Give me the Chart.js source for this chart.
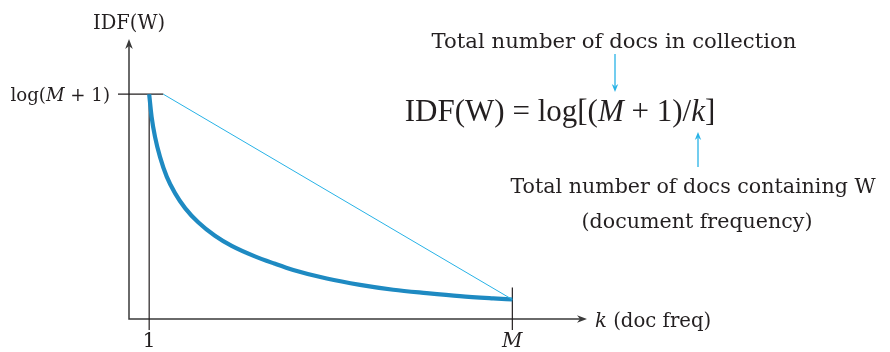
<!DOCTYPE html>
<html>
<head>
<meta charset="utf-8">
<script src="https://cdn.jsdelivr.net/npm/chart.js@4.4.1/dist/chart.umd.min.js"></script>
<style>
  html, body { margin: 0; padding: 0; background: #fff; }
  #wrap { width: 890px; height: 352px; }
</style>
</head>
<body>
<div id="wrap"><canvas id="idf-chart"></canvas></div>
<script>
// k runs from 1 to M, the top of the curve sits at log(M + 1)
const M_VALUE = 19;
const LOG_TOP = 3.0;

// IDF curve, read point by point
const docFreq = [1, 1.12, 1.29, 1.54, 1.87, 2.28, 2.78, 3.43, 4.26, 5.09, 6.24, 7.2, 8.14, 9.8, 11.45, 13.1, 14.75, 16.4, 18.05, 19];
const idfValues = [3.0, 2.70, 2.43, 2.16, 1.90, 1.68, 1.48, 1.29, 1.11, 0.975, 0.835, 0.74, 0.655, 0.54, 0.455, 0.39, 0.345, 0.305, 0.275, 0.26];

// straight line from the end of the log(M+1) tick to the end of the curve
const chordX = [1.7, M_VALUE];
const chordY = [LOG_TOP, 0.26];

const xTickValues = [1, M_VALUE];
const xTickLabels = ['1', 'M'];
const yTickValues = [LOG_TOP];

const INK = '#231f20';
const CURVE_BLUE = '#1e8ac2';
const LIGHT_BLUE = '#27b2e6';
const SERIF = '"DejaVu Serif", "Liberation Serif", serif';
const FORMULA_SERIF = '"Liberation Serif", serif';

function font(size, italic, family) {
    return (italic ? 'italic ' : '') + size + 'px ' + (family || SERIF);
}

// draws a run of [text, italic] pieces on one baseline
function drawRuns(ctx, runs, x, y, size, align, family) {
    let total = 0;
    runs.forEach(r => {
        ctx.font = font(size, r[1], family);
        total += ctx.measureText(r[0]).width;
    });
    let cx = x;
    if (align === 'center') cx = x - total / 2;
    if (align === 'right') cx = x - total;
    ctx.textAlign = 'left';
    ctx.textBaseline = 'alphabetic';
    runs.forEach(r => {
        ctx.font = font(size, r[1], family);
        ctx.fillText(r[0], cx, y);
        cx += ctx.measureText(r[0]).width;
    });
}

function arrowHead(ctx, x, y, dir, len, half) {
    const d = { up: [0, -1], down: [0, 1], right: [1, 0] }[dir];
    const px = -d[1], py = d[0];
    ctx.beginPath();
    ctx.moveTo(x, y);
    ctx.lineTo(x - d[0] * len + px * half, y - d[1] * len + py * half);
    ctx.lineTo(x - d[0] * len * 0.7, y - d[1] * len * 0.7);
    ctx.lineTo(x - d[0] * len - px * half, y - d[1] * len - py * half);
    ctx.closePath();
    ctx.fill();
}

const idfDecor = {
    id: 'idfDecor',
    beforeDatasetsDraw(chart) {
        const ctx = chart.ctx;
        const xs = chart.scales.x, ys = chart.scales.y;
        const x0 = xs.getPixelForValue(0), y0 = ys.getPixelForValue(0);
        const xEnd = xs.getPixelForValue(xs.max);
        const yEnd = ys.getPixelForValue(ys.max) + 1;
        ctx.save();
        ctx.strokeStyle = '#3a3a3a';
        ctx.fillStyle = '#3a3a3a';
        ctx.lineWidth = 1.5;
        // axes
        ctx.beginPath();
        ctx.moveTo(x0, yEnd + 6);
        ctx.lineTo(x0, y0);
        ctx.lineTo(xEnd - 6, y0);
        ctx.stroke();
        arrowHead(ctx, x0, yEnd, 'up', 10, 3.8);
        arrowHead(ctx, xEnd, y0, 'right', 10, 3.8);

        // x ticks: the one at 1 rises to the top of the curve
        ctx.lineWidth = 1.2;
        ctx.strokeStyle = INK;
        const topPx = ys.getPixelForValue(LOG_TOP);
        xTickValues.forEach((v, i) => {
            const px = xs.getPixelForValue(v);
            const from = i === 0 ? topPx : ys.getPixelForValue(idfValues[idfValues.length - 1]) - 12;
            ctx.beginPath();
            ctx.moveTo(px, from);
            ctx.lineTo(px, y0 + 11);
            ctx.stroke();
        });
        // y tick at log(M+1)
        yTickValues.forEach(v => {
            const py = ys.getPixelForValue(v);
            ctx.beginPath();
            ctx.moveTo(x0 - 11, py);
            ctx.lineTo(xs.getPixelForValue(chordX[0]), py);
            ctx.stroke();
        });
        ctx.restore();
    },
    afterDatasetsDraw(chart) {
        const ctx = chart.ctx;
        const xs = chart.scales.x, ys = chart.scales.y;
        const x0 = xs.getPixelForValue(0), y0 = ys.getPixelForValue(0);
        ctx.save();
        ctx.fillStyle = INK;

        drawRuns(ctx, [['IDF(W)', false]], x0, 29, 19.5, 'center');
        drawRuns(ctx, [['log(', false], ['M', true], [' + 1)', false]], x0 - 19, ys.getPixelForValue(LOG_TOP) + 7, 18.2, 'right');
        xTickValues.forEach((v, i) => {
            drawRuns(ctx, [[xTickLabels[i], i === 1]], xs.getPixelForValue(v), y0 + 28, 20, 'center');
        });
        drawRuns(ctx, [['k', true], [' (doc freq)', false]], xs.getPixelForValue(xs.max) + 8, y0 + 8, 19.7, 'left');

        // formula and its callouts
        drawRuns(ctx, [['Total number of docs in collection', false]], 614, 48, 21.2, 'center');
        drawRuns(ctx, [['IDF(W) = log[(', false], ['M', true], [' + 1)/', false], ['k', true], [']', false]], 560, 121, 31, 'center', FORMULA_SERIF);
        drawRuns(ctx, [['Total number of docs containing W', false]], 693, 193, 20.6, 'center');
        drawRuns(ctx, [['(document frequency)', false]], 697, 228, 20.6, 'center');

        ctx.strokeStyle = LIGHT_BLUE;
        ctx.fillStyle = LIGHT_BLUE;
        ctx.lineWidth = 1.3;
        ctx.beginPath();
        ctx.moveTo(615, 54);
        ctx.lineTo(615, 86);
        ctx.stroke();
        arrowHead(ctx, 615, 92, 'down', 8, 3.2);
        ctx.beginPath();
        ctx.moveTo(698, 167);
        ctx.lineTo(698, 138);
        ctx.stroke();
        arrowHead(ctx, 698, 132, 'up', 8, 3.2);
        ctx.restore();
    }
};

new Chart(document.getElementById('idf-chart'), {
    type: 'line',
    data: {
        datasets: [
            {
                data: chordX.map((x, i) => ({ x: x, y: chordY[i] })),
                borderColor: LIGHT_BLUE,
                borderWidth: 1,
                pointRadius: 0,
                tension: 0
            },
            {
                data: docFreq.map((x, i) => ({ x: x, y: idfValues[i] })),
                borderColor: CURVE_BLUE,
                borderWidth: 4.2,
                pointRadius: 0,
                cubicInterpolationMode: 'monotone'
            }
        ]
    },
    options: {
        responsive: true,
        maintainAspectRatio: false,
        animation: false,
        events: [],
        layout: { padding: { left: 129, right: 303, top: 38, bottom: 33 } },
        scales: {
            x: { type: 'linear', min: 0, max: 22.7, display: false },
            y: { type: 'linear', min: 0, max: 3.75, display: false }
        },
        plugins: {
            legend: { display: false },
            tooltip: { enabled: false }
        }
    },
    plugins: [idfDecor]
});
</script>
</body>
</html>
